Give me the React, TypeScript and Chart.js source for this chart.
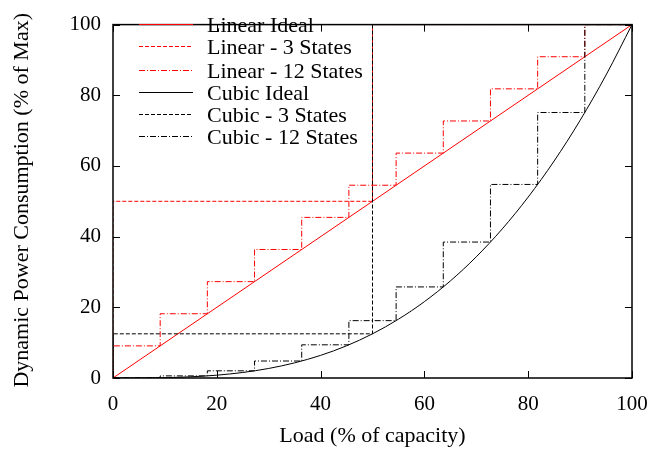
import React, { useEffect, useRef } from "react";
import { Chart, registerables } from "chart.js";

Chart.register(...registerables);

// Data
const xTicks = [0, 20, 40, 60, 80, 100];
const linearIdealX = [0, 100];
const linearIdealY = [0, 100];
const cubicIdealX = [0, 5, 10, 15, 20, 25, 30, 35, 40, 45, 50, 55, 60, 65, 70, 75, 80, 85, 90, 95, 100];
const cubicIdealY = [0, 0.0125, 0.1, 0.34, 0.8, 1.56, 2.7, 4.29, 6.4, 9.11, 12.5, 16.64, 21.6, 27.46, 34.3, 42.19, 51.2, 61.41, 72.9, 85.74, 100];
const edges3 = [0, 50];
const linear3Levels = [50, 100];
const cubic3Levels = [12.5, 100];
const edges12 = [0, 9.09, 18.18, 27.27, 36.36, 45.45, 54.55, 63.64, 72.73, 81.82, 90.91];
const linear12Levels = [9.09, 18.18, 27.27, 36.36, 45.45, 54.55, 63.64, 72.73, 81.82, 90.91, 100];
const cubic12Levels = [0.08, 0.6, 2.03, 4.81, 9.39, 16.23, 25.77, 38.47, 54.77, 75.13, 100];

const legendLabels = [
  "Linear Ideal",
  "Linear - 3 States",
  "Linear - 12 States",
  "Cubic Ideal",
  "Cubic - 3 States",
  "Cubic - 12 States",
];
const xTitle = "Load (% of capacity)";
const yTitle = "Dynamic Power Consumption (% of Max)";

const RED = "rgb(255,0,0)";
const BLACK = "rgb(0,0,0)";
const DASHED = [4, 2];
const DASHDOT = [6, 2, 1, 2];
const FONT = "'Liberation Serif', 'Times New Roman', serif";

function zipPts(xs: number[], ys: number[]) {
  return xs.map((x, i) => ({ x, y: ys[i] }));
}

function stepPts(edges: number[], levels: number[]) {
  const pts = [{ x: 0, y: 0 }];
  edges.forEach((e, i) => pts.push({ x: e, y: levels[i] }));
  pts.push({ x: 100, y: levels[levels.length - 1] });
  return pts;
}

const seriesColors = [RED, RED, RED, BLACK, BLACK, BLACK];
const seriesDashes: number[][] = [[], DASHED, DASHDOT, [], DASHED, DASHDOT];
const seriesDashOffsets = [0, 0, 0, 0, 3, 0];

const framePlugin = {
  id: "frame",
  afterDraw(chart: any) {
    const { ctx, chartArea } = chart;
    const { left, right, top, bottom } = chartArea;
    const xs = chart.scales.x;
    const ys = chart.scales.y;
    ctx.save();
    ctx.strokeStyle = "#000";
    ctx.lineWidth = 1.5;
    ctx.setLineDash([]);
    ctx.strokeRect(left, top, right - left, bottom - top);
    const tl = 7;
    ctx.lineWidth = 1;
    ctx.beginPath();
    xTicks.forEach((v) => {
      const px = Math.round(xs.getPixelForValue(v)) + 0.5;
      ctx.moveTo(px, bottom);
      ctx.lineTo(px, bottom - tl);
      ctx.moveTo(px, top);
      ctx.lineTo(px, top + tl);
      const py = Math.round(ys.getPixelForValue(v)) + 0.5;
      ctx.moveTo(left, py);
      ctx.lineTo(left + tl, py);
      ctx.moveTo(right, py);
      ctx.lineTo(right - tl, py);
    });
    ctx.stroke();
    ctx.restore();

    // y title
    ctx.save();
    ctx.translate(22, (top + bottom) / 2 - 1);
    ctx.rotate(-Math.PI / 2);
    ctx.font = `22px ${FONT}`;
    ctx.fillStyle = "#000";
    ctx.textAlign = "center";
    ctx.textBaseline = "middle";
    ctx.fillText(yTitle, 0, 0);
    ctx.restore();

    // legend
    const x0 = 139;
    const x1 = 193;
    const tx = 207;
    const y0 = 24;
    const dy = 22.5;
    legendLabels.forEach((label, i) => {
      const y = y0 + 2 * Math.round((i * dy) / 2);
      ctx.save();
      ctx.fillStyle = seriesColors[i];
      const dash = seriesDashes[i];
      if (dash.length === 0) {
        ctx.fillRect(x0, y, x1 - x0, 1);
      } else {
        let x = x0;
        let k = 0;
        while (x < x1) {
          const len = dash[k % dash.length];
          if (k % 2 === 0) ctx.fillRect(x, y, Math.min(len, x1 - x), 1);
          x += len;
          k++;
        }
      }
      ctx.restore();
      ctx.save();
      ctx.font = `22px ${FONT}`;
      ctx.textBaseline = "middle";
      ctx.textAlign = "left";
      ctx.fillStyle = "#000";
      ctx.fillText(label, tx, y + 2.5);
      ctx.restore();
    });
  },
};

export default function App() {
  const ref = useRef<HTMLCanvasElement | null>(null);
  useEffect(() => {
    if (!ref.current) return;
    const data = [
      zipPts(linearIdealX, linearIdealY),
      stepPts(edges3, linear3Levels),
      stepPts(edges12, linear12Levels),
      zipPts(cubicIdealX, cubicIdealY),
      stepPts(edges3, cubic3Levels),
      stepPts(edges12, cubic12Levels),
    ];
    const datasets = legendLabels.map((label, i) => ({
      label,
      data: data[i],
      order: legendLabels.length - i,
      borderColor: seriesColors[i],
      backgroundColor: seriesColors[i],
      borderDash: seriesDashes[i],
      borderDashOffset: seriesDashOffsets[i],
      borderWidth: 1,
      pointRadius: 0,
      fill: false,
      stepped: i === 0 || i === 3 ? false : ("before" as const),
      cubicInterpolationMode: i === 3 ? ("monotone" as const) : ("default" as const),
      tension: 0,
    }));
    const chart = new Chart(ref.current, {
      type: "line",
      data: { datasets },
      options: {
        responsive: false,
        animation: false,
        layout: { padding: { top: 10, right: 40, left: 0, bottom: 0 } },
        plugins: { legend: { display: false }, tooltip: { enabled: false } },
        scales: {
          x: {
            type: "linear",
            min: 0,
            max: 100,
            ticks: { stepSize: 20, color: "#000", font: { family: FONT, size: 21 }, padding: 14, maxRotation: 0 },
            grid: { display: false, drawTicks: false },
            border: { display: false },
            title: {
              display: true,
              text: xTitle,
              color: "#000",
              font: { family: FONT, size: 22 },
              padding: { top: 0, bottom: 1 },
            },
            afterFit: (s: any) => {
              s.height = 72;
            },
          },
          y: {
            type: "linear",
            min: 0,
            max: 100,
            ticks: { stepSize: 20, color: "#000", font: { family: FONT, size: 21 }, padding: 12 },
            grid: { display: false, drawTicks: false },
            border: { display: false },
            title: { display: false },
            afterFit: (s: any) => {
              s.width = 113;
            },
          },
        },
      },
      plugins: [framePlugin],
    });
    return () => chart.destroy();
  }, []);
  return (
    <div style={{ position: "absolute", left: 0, top: 0, width: 672, height: 450, background: "#fff" }}>
      <canvas ref={ref} width={672} height={450} style={{ display: "block" }} />
    </div>
  );
}
